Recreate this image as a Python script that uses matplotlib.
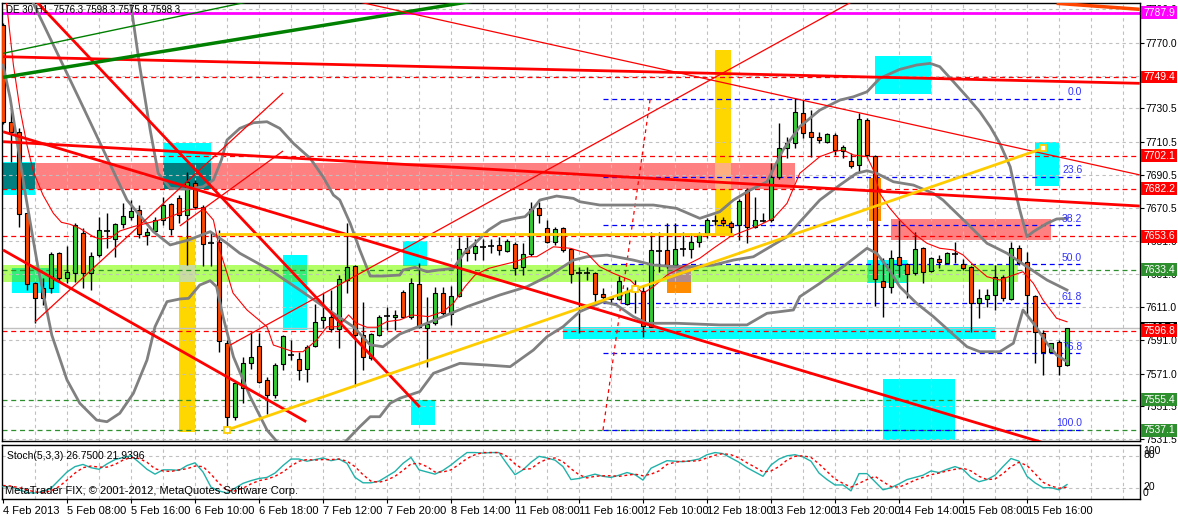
import matplotlib
matplotlib.use('Agg')
import matplotlib.pyplot as plt
from matplotlib.patches import Rectangle
from matplotlib.transforms import blended_transform_factory

plt.rcParams['font.family'] = ['Liberation Sans', 'DejaVu Sans']

# ── candles (DE30 H1, 4 Feb 14:00 .. 15 Feb 21:00) ────────────────────────────
opens = [7780.6, 7722.1, 7716.1, 7667.4, 7625.3, 7622.3, 7622.3, 7643.4, 7628.3, 7631.3,
         7655.4, 7631.3, 7642.3, 7656.6, 7652.0, 7660.8, 7665.4, 7669.4, 7654.4, 7657.0,
         7663.4, 7673.0, 7676.4, 7666.4, 7685.8, 7671.0, 7649.6, 7650.4, 7589.2, 7545.1,
         7562.2, 7577.6, 7587.6, 7567.2, 7558.2, 7576.9, 7582.5, 7579.6, 7573.6, 7587.6,
         7603.3, 7604.9, 7597.7, 7627.3, 7635.7, 7594.2, 7580.2, 7594.2, 7605.9, 7604.9,
         7620.3, 7604.9, 7624.7, 7598.3, 7601.7, 7619.7, 7606.9, 7617.7, 7646.4, 7643.7,
         7647.4, 7647.5, 7648.4, 7644.9, 7649.0, 7635.0, 7643.0, 7670.4, 7658.4, 7650.4,
         7658.4, 7645.8, 7631.8, 7631.8, 7631.3, 7618.7, 7616.0, 7615.9, 7612.9, 7621.3,
         7620.9, 7599.2, 7645.0, 7645.4, 7636.3, 7645.9, 7645.8, 7650.4, 7655.4, 7663.0,
         7663.4, 7661.8, 7660.4, 7681.4, 7659.4, 7663.0, 7663.4, 7689.4, 7706.5, 7709.9,
         7727.5, 7716.5, 7713.5, 7710.5, 7714.5, 7705.1, 7698.9, 7696.5, 7723.5, 7701.9,
         7626.9, 7622.9, 7641.3, 7636.7, 7631.7, 7646.4, 7632.7, 7640.0, 7637.7, 7643.0,
         7636.7, 7635.3, 7613.7, 7615.7, 7618.3, 7628.9, 7615.7, 7646.7, 7637.9, 7617.7,
         7595.6, 7584.2, 7590.2, 7576.3]
highs = [7782.0, 7730.6, 7718.7, 7667.4, 7626.0, 7628.3, 7644.0, 7644.0, 7647.9, 7661.5,
         7658.4, 7644.0, 7665.4, 7667.4, 7661.5, 7673.4, 7675.4, 7672.4, 7658.4, 7665.0,
         7677.0, 7673.4, 7678.4, 7692.2, 7687.4, 7672.4, 7656.0, 7657.4, 7591.2, 7566.2,
         7581.2, 7596.2, 7595.3, 7569.2, 7577.4, 7594.2, 7591.2, 7584.2, 7588.2, 7612.9,
         7619.3, 7621.3, 7630.3, 7661.6, 7636.3, 7614.3, 7595.4, 7606.3, 7610.9, 7609.0,
         7621.5, 7628.3, 7637.4, 7617.3, 7623.3, 7623.3, 7623.7, 7653.3, 7653.3, 7651.8,
         7651.8, 7651.8, 7653.3, 7651.8, 7650.0, 7649.4, 7674.4, 7674.4, 7663.4, 7659.4,
         7659.0, 7646.5, 7635.3, 7635.3, 7632.0, 7622.3, 7617.3, 7629.7, 7622.9, 7627.3,
         7624.3, 7656.4, 7656.4, 7661.4, 7661.4, 7656.4, 7655.4, 7656.4, 7664.4, 7666.4,
         7665.0, 7663.0, 7676.0, 7682.6, 7677.4, 7667.6, 7697.8, 7721.9, 7713.5, 7736.6,
         7735.5, 7729.5, 7716.5, 7716.0, 7715.5, 7708.5, 7703.9, 7727.5, 7724.5, 7702.5,
         7640.4, 7645.4, 7663.4, 7637.4, 7656.4, 7647.4, 7641.3, 7642.3, 7644.3, 7650.4,
         7639.8, 7636.0, 7621.7, 7621.7, 7636.3, 7630.3, 7650.4, 7648.4, 7644.3, 7618.3,
         7597.2, 7589.6, 7591.2, 7598.3]
lows = [7721.0, 7698.4, 7659.4, 7621.3, 7601.3, 7612.3, 7619.3, 7627.0, 7625.3, 7626.3,
        7622.7, 7621.3, 7641.0, 7646.4, 7641.3, 7658.4, 7663.4, 7652.4, 7648.4, 7655.4,
        7660.4, 7654.4, 7661.4, 7636.3, 7670.0, 7635.7, 7635.7, 7584.2, 7537.5, 7543.1,
        7553.5, 7574.0, 7565.4, 7547.0, 7556.6, 7573.0, 7579.2, 7567.2, 7566.2, 7587.0,
        7598.3, 7596.0, 7586.2, 7619.5, 7564.2, 7573.2, 7579.2, 7593.6, 7597.2, 7597.2,
        7604.5, 7604.0, 7598.4, 7575.0, 7600.2, 7606.3, 7600.2, 7617.0, 7638.9, 7639.3,
        7639.3, 7643.4, 7642.3, 7644.0, 7630.3, 7630.3, 7642.0, 7661.4, 7649.6, 7648.4,
        7644.0, 7625.7, 7595.6, 7627.3, 7613.3, 7614.3, 7613.3, 7615.3, 7612.3, 7607.3,
        7592.9, 7599.0, 7632.3, 7634.5, 7635.7, 7641.8, 7640.4, 7647.4, 7652.4, 7660.4,
        7660.0, 7654.4, 7651.3, 7649.4, 7658.6, 7662.2, 7662.2, 7688.0, 7700.5, 7706.5,
        7712.7, 7701.4, 7709.5, 7709.7, 7702.5, 7700.5, 7694.5, 7692.4, 7700.7, 7611.7,
        7605.3, 7619.3, 7629.3, 7616.3, 7630.3, 7625.3, 7632.1, 7634.3, 7637.5, 7637.4,
        7633.3, 7596.2, 7604.3, 7611.3, 7609.3, 7614.7, 7615.3, 7636.3, 7606.3, 7577.6,
        7570.2, 7583.2, 7570.2, 7575.8]
closes = [7722.1, 7716.1, 7666.8, 7624.7, 7616.7, 7616.7, 7642.8, 7628.3, 7631.9, 7660.4,
          7631.3, 7641.9, 7657.4, 7656.0, 7660.8, 7665.8, 7668.6, 7655.0, 7656.4, 7663.4,
          7672.4, 7657.8, 7666.4, 7686.2, 7671.4, 7649.0, 7649.0, 7590.6, 7544.7, 7565.2,
          7577.2, 7581.2, 7566.2, 7558.2, 7576.3, 7593.6, 7581.9, 7573.2, 7587.2, 7601.9,
          7604.9, 7597.7, 7627.7, 7635.1, 7594.2, 7581.2, 7594.6, 7605.3, 7605.4, 7606.3,
          7604.9, 7625.3, 7598.9, 7600.7, 7619.3, 7607.6, 7617.7, 7645.8, 7643.4, 7647.8,
          7647.0, 7648.0, 7645.4, 7650.9, 7634.3, 7643.0, 7669.8, 7666.4, 7650.4, 7657.8,
          7645.4, 7630.9, 7631.5, 7631.5, 7618.9, 7617.3, 7615.6, 7626.7, 7620.9, 7620.7,
          7599.7, 7645.4, 7644.8, 7636.3, 7645.8, 7645.6, 7650.4, 7654.4, 7663.4, 7663.2,
          7661.8, 7659.4, 7674.8, 7659.4, 7663.4, 7663.2, 7689.4, 7706.5, 7709.9, 7728.1,
          7715.5, 7713.1, 7711.5, 7714.9, 7705.5, 7707.5, 7695.9, 7723.9, 7702.5, 7627.7,
          7623.3, 7640.4, 7636.3, 7630.9, 7645.8, 7632.3, 7640.4, 7638.3, 7643.4, 7642.8,
          7634.3, 7613.3, 7616.3, 7618.3, 7629.3, 7616.3, 7646.4, 7637.4, 7618.3, 7596.2,
          7584.2, 7589.2, 7575.8, 7598.3]

# ── stochastic (5,3,3) ────────────────────────────────────────────────────────
stoch_main = [23, 23, 17, 12, 11, 14, 20, 35, 50, 60, 64, 58, 55, 65, 73, 77, 80, 68, 55, 46,
              54, 54, 53, 62, 67, 50, 22, 15, 11, 20, 29, 34, 38, 40, 48, 62, 74, 74, 70, 73,
              76, 71, 74, 66, 40, 30, 30, 33, 42, 51, 66, 77, 54, 50, 46, 53, 63, 75, 86, 86,
              85, 86, 86, 65, 45, 54, 68, 79, 76, 72, 60, 36, 38, 42, 46, 42, 40, 44, 49, 45,
              35, 57, 64, 71, 70, 69, 71, 74, 82, 86, 84, 76, 68, 58, 50, 42, 63, 74, 80, 82,
              78, 70, 48, 36, 26, 26, 15, 47, 47, 32, 17, 21, 28, 36, 40, 44, 52, 49, 55, 60,
              55, 40, 32, 36, 44, 60, 75, 70, 42, 30, 21, 21, 17, 26.75]
stoch_sig = [25, 24, 21, 17, 13, 12, 15, 23, 35, 48, 58, 61, 59, 59, 64, 72, 77, 75, 68, 56,
             52, 51, 54, 56, 61, 60, 46, 29, 16, 15, 20, 28, 34, 37, 42, 50, 61, 70, 73, 72,
             73, 73, 74, 70, 60, 45, 33, 31, 35, 42, 53, 65, 66, 60, 50, 50, 54, 64, 75, 82,
             86, 86, 86, 79, 65, 55, 56, 67, 74, 76, 69, 56, 45, 39, 42, 43, 43, 42, 44, 46,
             43, 46, 52, 64, 68, 70, 70, 71, 76, 81, 84, 82, 76, 67, 59, 50, 52, 60, 72, 79,
             80, 77, 65, 51, 37, 29, 22, 29, 36, 42, 32, 23, 22, 28, 35, 40, 45, 48, 52, 55,
             57, 52, 42, 36, 37, 47, 60, 68, 62, 47, 31, 24, 20, 21.94]

# ── Bollinger bands and thin MA, read as (bar, price) vertices ────────────────
bb_up_x = [14.6, 15.9, 17.1, 18.4, 19.4, 20.9, 23.0, 25.0, 26.3, 27.3, 28.0, 29.6, 31.3, 33.0,
           34.6, 36.3, 38.4, 40.0, 41.3, 42.1, 43.4, 44.6, 45.9, 47.5, 49.6, 50.0, 51.5, 53.0,
           54.4, 56.3, 57.75, 59.0, 60.7, 62.3, 64.0, 65.25, 66.3, 67.1, 69.2, 71.3, 72.1, 74.6,
           81.3, 84.2, 87.1, 89.6, 91.3, 93.4, 95.5, 97.5, 99.6, 102.1, 104.6, 106.3, 108.0,
           109.6, 112.1, 114.2, 115.9, 117.1, 118.8, 120.5, 122.1, 123.4, 124.6, 125.9, 126.7,
           127.1, 128.0, 128.8, 130.5, 131.7, 133.0]
bb_up_y = [7807.7, 7795.7, 7755.6, 7717.5, 7691.5, 7682.5, 7681.9, 7683.4, 7687.5, 7699.5,
           7711.5, 7718.5, 7721.9, 7722.5, 7718.5, 7709.5, 7700.5, 7689.4, 7678.4, 7675.4,
           7661.4, 7645.4, 7629.7, 7629.7, 7630.3, 7633.3, 7634.9, 7632.3, 7633.3, 7634.3,
           7644.3, 7649.4, 7657.4, 7662.4, 7664.4, 7665.4, 7670.4, 7675.4, 7677.8, 7676.4,
           7674.4, 7672.4, 7672.4, 7670.4, 7664.4, 7668.4, 7675.4, 7681.4, 7686.4, 7705.5,
           7719.5, 7729.5, 7735.5, 7737.5, 7740.5, 7748.6, 7754.0, 7756.6, 7757.6, 7755.6,
           7746.6, 7737.5, 7728.5, 7719.5, 7709.5, 7695.4, 7677.4, 7669.4, 7653.4, 7656.4,
           7661.4, 7664.0, 7664.4]
bb_mid_x = [2.75, 3.6, 9.6, 15.5, 18.8, 20.9, 23.2, 25.9, 28.0, 29.6, 33.4, 37.1, 41.3, 43.8,
            45.9, 47.5, 49.6, 53.0, 58.0, 62.1, 65.5, 68.4, 71.3, 73.0, 75.5, 78.8, 81.3, 84.2,
            86.3, 88.8, 91.3, 93.8, 95.9, 98.0, 99.6, 102.1, 104.6, 106.7, 108.0, 109.2, 111.3,
            113.8, 116.3, 117.5, 120.5, 123.0, 125.5, 128.0, 130.5, 133.0]
bb_mid_y = [7804.7, 7795.7, 7735.5, 7675.4, 7656.4, 7648.4, 7651.4, 7656.4, 7649.4, 7643.4,
            7633.3, 7621.3, 7607.3, 7599.2, 7588.3, 7587.2, 7594.8, 7601.3, 7611.3, 7618.3,
            7623.3, 7630.3, 7639.3, 7641.3, 7642.3, 7639.3, 7636.3, 7635.3, 7635.3, 7636.3,
            7639.3, 7641.3, 7647.3, 7653.3, 7662.2, 7675.4, 7684.4, 7691.5, 7693.0, 7691.5,
            7686.4, 7684.4, 7679.4, 7675.4, 7661.4, 7649.4, 7643.4, 7635.3, 7627.3, 7621.3]
bb_low_x = [0.0, 0.9, 1.9, 2.75, 3.6, 4.4, 5.25, 6.1, 8.0, 9.6, 11.7, 13.0, 14.6, 16.3, 18.0,
            19.0, 20.5, 22.1, 23.2, 24.6, 25.9, 26.7, 27.5, 28.8, 30.9, 33.0, 34.6, 37.1, 39.6,
            41.5, 43.0, 44.6, 45.9, 47.1, 48.4, 49.6, 52.1, 53.8, 57.1, 60.5, 63.4, 66.3, 68.0,
            70.0, 72.1, 75.0, 76.7, 78.8, 80.5, 84.2, 89.6, 93.0, 95.5, 98.8, 99.6, 102.1,
            105.0, 108.0, 109.2, 110.5, 112.1, 114.2, 116.3, 118.4, 120.5, 122.1, 124.6, 126.3,
            127.5, 128.8, 130.5, 131.7, 133.0]
bb_low_y = [7756.6, 7736.6, 7706.5, 7680.4, 7656.4, 7634.3, 7614.3, 7594.2, 7567.2, 7553.2,
            7543.1, 7542.1, 7547.2, 7559.2, 7579.2, 7599.2, 7614.3, 7615.9, 7616.3, 7624.3,
            7626.9, 7623.3, 7605.3, 7581.2, 7557.1, 7537.1, 7528.1, 7520.3, 7520.3, 7523.9,
            7531.1, 7539.1, 7545.1, 7545.1, 7553.2, 7556.2, 7560.2, 7571.2, 7577.2, 7576.2,
            7575.2, 7585.2, 7593.2, 7599.2, 7608.3, 7614.3, 7612.3, 7605.3, 7601.3, 7601.3,
            7600.3, 7600.3, 7607.3, 7609.3, 7617.3, 7625.3, 7635.3, 7646.4, 7643.4, 7635.3,
            7623.3, 7613.3, 7605.3, 7596.2, 7587.2, 7584.2, 7584.2, 7589.3, 7609.3, 7601.3,
            7589.3, 7582.2, 7578.2]
ma_x = [0.4, 1.3, 2.1, 3.0, 3.8, 5.0, 6.3, 7.3, 8.4, 9.6, 11.3, 12.1, 13.4, 14.6, 16.3, 20.5,
        23.0, 25.0, 26.3, 27.1, 28.0, 28.75, 30.5, 33.0, 33.8, 36.3, 37.5, 39.2, 40.5, 41.9,
        43.2, 44.2, 45.5, 46.7, 48.0, 49.6, 51.1, 53.2, 55.0, 56.3, 57.75, 59.0, 60.7, 62.3,
        64.0, 65.7, 66.7, 68.8, 70.9, 73.0, 74.6, 76.3, 78.4, 80.0, 81.3, 83.0, 85.0, 87.1,
        88.8, 90.9, 93.0, 94.6, 96.3, 98.0, 99.6, 102.1, 103.8, 105.0, 106.3, 108.0, 108.8,
        109.6, 110.7, 112.1, 113.8, 115.5, 117.1, 118.8, 120.0, 121.3, 123.0, 124.6, 126.3,
        127.5, 128.8, 130.0, 131.7, 133.0]
ma_y = [7795.7, 7756.6, 7730.7, 7708.5, 7692.4, 7678.4, 7667.4, 7662.0, 7660.8, 7658.4,
        7653.3, 7652.0, 7652.4, 7656.8, 7659.4, 7664.6, 7669.4, 7670.6, 7663.4, 7645.4,
        7631.5, 7619.5, 7609.3, 7599.2, 7588.2, 7584.2, 7584.2, 7591.2, 7599.2, 7599.2,
        7606.3, 7601.3, 7598.9, 7598.9, 7602.3, 7603.3, 7606.3, 7605.3, 7608.3, 7613.3,
        7623.3, 7630.3, 7634.3, 7636.3, 7638.3, 7641.3, 7641.3, 7647.3, 7646.4, 7643.4,
        7635.3, 7631.3, 7627.3, 7619.3, 7623.3, 7630.3, 7635.3, 7640.4, 7646.4, 7653.4,
        7657.4, 7660.4, 7664.4, 7673.4, 7691.5, 7701.5, 7704.5, 7705.5, 7702.5, 7701.5,
        7693.5, 7679.4, 7671.4, 7663.4, 7655.4, 7649.4, 7646.4, 7645.4, 7642.4, 7636.3,
        7629.3, 7627.3, 7630.3, 7632.3, 7625.3, 7615.3, 7604.3, 7602.2]

# ── chart objects ─────────────────────────────────────────────────────────────
# trend lines: (bar0, price0, bar1, price1, colour, width)
trend_lines = [
    (0.0, 7761.6, 142.1, 7745.6, '#ff0000', 2.0),
    (0.0, 7710.5, 142.1, 7671.8, '#ff0000', 2.0),
    (0.0, 7716.5, 142.1, 7512.1, '#ff0000', 2.0),
    (0.0, 7645.4, 37.9, 7542.1, '#ff0000', 2.0),
    (4.0, 7795.7, 52.1, 7550.9, '#ff0000', 2.0),
    (131.7, 7793.7, 142.1, 7790.1, '#ff4500', 2.5),
    (0.0, 7749.2, 60.0, 7796.0, '#008000', 2.5),
    (0.0, 7763.6, 31.0, 7795.0, '#008000', 1.0),
    (43.4, 7795.7, 142.1, 7690.5, '#ff0000', 0.9),
    (28.4, 7588.2, 106.5, 7795.7, '#ff0000', 0.9),
    (4.0, 7602.1, 35.0, 7739.8, '#ff0000', 0.9),
    (22.1, 7659.8, 35.0, 7704.9, '#ff0000', 0.9),
]
gold_x = [28.0, 79.0, 130.0]
gold_y = [7537.1, 7621.8, 7706.5]
gold_hline = (26.9, 91.25, 7654.8)

# horizontal levels with price-axis labels
level_prices = [7749.4, 7702.1, 7682.2, 7653.6, 7596.8, 7633.4, 7555.4, 7537.1]
level_colors = ['#ff0000'] * 5 + ['#2d8f2d'] * 3
magenta_level = 7787.9
bid_price = 7598.3

# fibonacci retracement
fib_prices = [7736.3, 7689.3, 7660.2, 7636.7, 7613.2, 7583.3, 7537.1]
fib_labels = ['0.0', '23.6', '38.2', '50.0', '61.8', '76.8', '100.0']
fib_anchor = (75.0, 7537.1, 80.9, 7736.3)

# rectangles: (bar0, bar1, price_lo, price_hi)
pink_rects = [(0.0, 99.0, 7681.9, 7697.5), (111.0, 131.0, 7651.4, 7664.0)]
lime_rects = [(0.0, 126.9, 7626.3, 7636.3)]
gold_rects = [(22.0, 24.0, 7535.7, 7653.4), (89.0, 91.0, 7654.4, 7765.6)]
orange_rects = [(83.0, 86.0, 7619.7, 7636.3), (108.2, 109.8, 7662.8, 7688.6)]
cyan_rects = [(0.0, 4.0, 7678.4, 7698.1), (20.0, 26.0, 7681.9, 7709.9),
              (1.1, 7.0, 7619.7, 7634.3), (35.0, 38.0, 7597.3, 7642.4),
              (50.0, 53.0, 7635.7, 7650.8), (51.0, 54.0, 7540.1, 7555.1),
              (70.0, 124.0, 7592.0, 7598.9), (109.0, 116.0, 7739.2, 7762.0),
              (129.0, 132.0, 7684.0, 7710.5), (110.0, 119.0, 7531.1, 7567.8),
              (108.0, 113.0, 7625.3, 7639.4)]

price_ticks = [7790.0, 7770.0, 7750.0, 7730.5, 7710.5, 7690.5, 7670.5, 7651.0,
               7631.0, 7611.0, 7591.0, 7571.0, 7551.5, 7531.5]
date_labels = ['4 Feb 2013', '5 Feb 08:00', '5 Feb 16:00', '6 Feb 10:00', '6 Feb 18:00',
               '7 Feb 12:00', '7 Feb 20:00', '8 Feb 14:00', '11 Feb 08:00', '11 Feb 16:00',
               '12 Feb 10:00', '12 Feb 18:00', '13 Feb 12:00', '13 Feb 20:00',
               '14 Feb 14:00', '15 Feb 08:00', '15 Feb 16:00']

# ── figure ────────────────────────────────────────────────────────────────────
W, H, DPI = 1178, 516, 100
fig = plt.figure(figsize=(W / DPI, H / DPI), dpi=DPI, facecolor='white')
ax = fig.add_axes([2 / W, 1 - 441 / H, 1138 / W, 438 / H])
ax2 = fig.add_axes([2 / W, 1 - 499 / H, 1138 / W, 54 / H])
XMIN, XMAX = -0.125, 142.125
ax.set_xlim(XMIN, XMAX)
ax.set_ylim(7530.5, 7793.9)
ax2.set_xlim(XMIN, XMAX)
ax2.set_ylim(0, 100)

GRID = dict(color='#c0c0c0', lw=0.8, ls=(0, (3, 3)), zorder=1)
for t in price_ticks:
    ax.axhline(t, **GRID)
for b in range(4, 142, 4):
    ax.axvline(b, **GRID)
    ax2.axvline(b, **GRID)
for lv in (20, 80):
    ax2.axhline(lv, **GRID)


def draw_rects(rects, color, z=0.5):
    for b0, b1, p0, p1 in rects:
        ax.add_patch(Rectangle((b0, p0), b1 - b0, p1 - p0, fc=color, ec='none', zorder=z))


def draw_overlaps(ra, rb, color):
    for a in ra:
        for b in rb:
            x0, x1 = max(a[0], b[0]), min(a[1], b[1])
            y0, y1 = max(a[2], b[2]), min(a[3], b[3])
            if x1 > x0 and y1 > y0:
                ax.add_patch(Rectangle((x0, y0), x1 - x0, y1 - y0, fc=color, ec='none',
                                       zorder=0.6))


draw_rects(pink_rects, '#ff8080')
draw_rects(lime_rects, '#b3ff66')
draw_rects(gold_rects, '#ffd700')
draw_rects(orange_rects, '#ff8c00')
draw_rects(cyan_rects, '#00ffff')
draw_overlaps(cyan_rects, pink_rects, '#008080')
draw_overlaps(cyan_rects, lime_rects, '#33ee77')
draw_overlaps(gold_rects, lime_rects, '#c8dca0')
draw_overlaps(gold_rects, pink_rects, '#ffb080')
draw_overlaps(orange_rects, lime_rects, '#b08c8c')

# horizontal levels
DASH = (0, (4, 3))
for p, c in zip(level_prices, level_colors):
    ax.axhline(p, color=c, lw=0.9, ls=DASH, zorder=2)
ax.axhline(magenta_level, color='#ff00ff', lw=2, zorder=2)
ax.axhline(bid_price, color='#c0c0c0', lw=1, zorder=2)

# fibonacci
for p in fib_prices:
    ax.hlines(p, fib_anchor[0], 134.6, color='#0000ff', lw=0.9, ls=DASH, zorder=2)
for p, lab in zip(fib_prices, fib_labels):
    ax.text(134.9, p + 1.0, lab, color='#3333ff', fontsize=7.5, ha='right', va='bottom',
            zorder=6)
ax.plot([fib_anchor[0], fib_anchor[2]], [fib_anchor[1], fib_anchor[3]], color='#ff0000',
        lw=0.9, ls=(0, (3, 3)), zorder=2)

# candles
for i, (o, h, l, c) in enumerate(zip(opens, highs, lows, closes)):
    ax.vlines(i, l, h, color='black', lw=1, zorder=3)
    if abs(c - o) < 0.8:
        ax.hlines(o, i - 0.35, i + 0.35, color='black', lw=1.2, zorder=3.5)
    else:
        col = '#33cc33' if c > o else '#ff4500'
        ax.add_patch(Rectangle((i - 0.3, min(o, c)), 0.6, abs(c - o), fc=col, ec='black',
                               lw=0.8, zorder=3.5))

# indicators
ax.plot(bb_up_x, bb_up_y, color='#808080', lw=2, zorder=4)
ax.plot(bb_mid_x, bb_mid_y, color='#808080', lw=2, zorder=4)
ax.plot(bb_low_x, bb_low_y, color='#808080', lw=2, zorder=4)
ax.plot(ma_x, ma_y, color='#ff0000', lw=0.8, zorder=4)

# trend lines
for b0, p0, b1, p1, c, w in trend_lines:
    ax.plot([b0, b1], [p0, p1], color=c, lw=w, zorder=5, solid_capstyle='butt')
ax.plot(gold_x, gold_y, color='#ffcc00', lw=2, zorder=5)
ax.plot(gold_x, gold_y, ls='none', marker='s', ms=4, mfc='white', mec='#ffcc00',
        mew=1.3, zorder=6)
ax.hlines(gold_hline[2], gold_hline[0], gold_hline[1], color='#ffcc00', lw=2, zorder=5)

# stochastic
bars = list(range(len(stoch_main)))
ax2.plot(bars, stoch_main, color='#20b2aa', lw=1, zorder=3)
ax2.plot(bars, stoch_sig, color='#ff0000', lw=1, ls=(0, (2, 2)), zorder=3)

# axes cosmetics
for a in (ax, ax2):
    for s in a.spines.values():
        s.set_color('black')
        s.set_linewidth(1)
ax.set_xticks([])
ax.yaxis.tick_right()
ax.set_yticks(price_ticks)
ax.set_yticklabels([f'{t:.1f}' for t in price_ticks])
ax.tick_params(axis='y', length=3, pad=1, labelsize=7.5, direction='out')
ax2.set_yticks([])
ax2.set_xticks(range(0, 129, 8))
ax2.set_xticklabels(date_labels)
for lbl in ax2.get_xticklabels():
    lbl.set_horizontalalignment('left')
ax2.tick_params(axis='x', length=3, pad=2, labelsize=8, direction='out')

# price-axis label boxes
trans = blended_transform_factory(fig.transFigure, ax.transData)
box_h = 7.8


def price_box(p, color, z=10):
    ax.add_patch(Rectangle((1141 / W, p - box_h / 2), 36 / W, box_h, transform=trans,
                           fc=color, ec='none', clip_on=False, zorder=z))
    ax.text(1159 / W, p, f'{p:.1f}', transform=trans, ha='center', va='center',
            color='white', fontsize=7.5, clip_on=False, zorder=z + 0.5)


price_box(bid_price, '#000000', z=8)
price_box(magenta_level, '#ff00ff')
for p, c in zip(level_prices, level_colors):
    price_box(p, c)

# stoch scale labels
trans2 = blended_transform_factory(fig.transFigure, ax2.transData)
for txt, v in (('100', 88), ('80', 81), ('20', 22), ('0', 11)):
    ax2.text(1143 / W, v, txt, transform=trans2, ha='left', va='center', fontsize=7.5,
             clip_on=False)

fig.text(6 / W, 1 - 10 / H, 'DE 30,H1  7576.3 7598.3 7575.8 7598.3', fontsize=7,
         va='center', zorder=12)
fig.text(7 / W, 1 - 456 / H, 'Stoch(5,3,3) 26.7500 21.9396', fontsize=7.5, va='center')
fig.text(5 / W, 1 - 491 / H, 'MetaTrader FIX, © 2001-2012, MetaQuotes Software Corp.',
         fontsize=8, va='center')

fig.savefig('out.png', dpi=DPI, facecolor='white')
